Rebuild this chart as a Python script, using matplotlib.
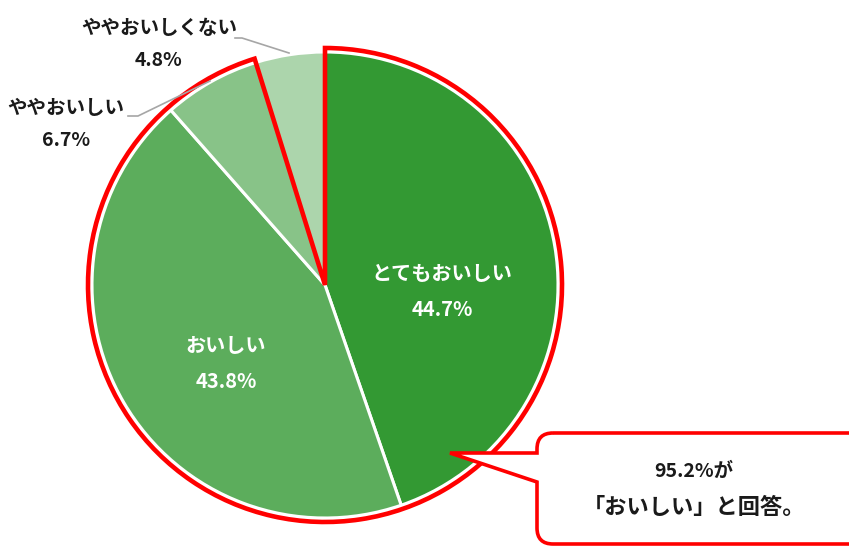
import numpy as np
import matplotlib.pyplot as plt
from matplotlib.path import Path
from matplotlib.patches import PathPatch

plt.rcParams['font.family'] = ['Noto Sans CJK JP', 'DejaVu Sans']

# data
labels = ['とてもおいしい', 'おいしい', 'ややおいしい', 'ややおいしくない']
values = [44.7, 43.8, 6.7, 4.8]
colors = ['#339933', '#5cad5c', '#88c388', '#acd5ac']
highlight = [95.2, 4.8]
callout_lines = ['95.2%が', '「おいしい」と回答。']

W, H = 849, 547
fig = plt.figure(figsize=(W / 100, H / 100), dpi=100)
ax = fig.add_axes([0, 0, 1, 1])

# pixel helper (y measured from top)
def P(x, y):
    return (x, H - y)

cx, cy = P(325, 285)
r = 233

wedges, _ = ax.pie(values, colors=colors, startangle=90, counterclock=False,
                   center=(cx, cy), radius=r,
                   wedgeprops=dict(edgecolor='white', linewidth=2.2))

# red outline around the "おいしい" group
hw, _ = ax.pie(highlight, startangle=90, counterclock=False,
               center=(cx, cy), radius=r + 4,
               wedgeprops=dict(fill=False, edgecolor='#ff0000', linewidth=3.3,
                               joinstyle='miter'))
hw[1].set_visible(False)

ax.set_xlim(0, W)
ax.set_ylim(0, H)
ax.axis('off')

# labels inside
fs = 14.5
inside = {0: (442, 273, 310), 1: (226, 345, 381)}
for i, (x, y1, y2) in inside.items():
    ax.text(*P(x, y1), labels[i], color='white', fontsize=fs, fontweight='bold',
            ha='center', va='center')
    ax.text(*P(x, y2), f'{values[i]}%', color='white', fontsize=fs, fontweight='bold',
            ha='center', va='center')

# labels outside with leader lines
outside = {2: (66, 108, 140, [(128, 116), (138, 116), (210, 81)]),
           3: (159, 28, 61, [(235, 38), (242, 38), (289, 53)])}
for i, (x, y1, y2, pts) in outside.items():
    ax.text(*P(x, y1), labels[i], color='#1a1a1a', fontsize=14, fontweight='bold',
            ha='center', va='center')
    ax.text(*P(x, y2), f'{values[i]}%', color='#1a1a1a', fontsize=14, fontweight='bold',
            ha='center', va='center')
    xs, ys = zip(*[P(px, py) for px, py in pts])
    ax.plot(xs, ys, color='#a6a6a6', lw=1.2, zorder=1.5)

# callout bubble
L, T, R, B, rc = 537, 433, 880, 544, 16
tip = (450, 453)
verts = [P(L + rc, T), P(R, T), P(R, B), P(L + rc, B),
         P(L, B), P(L, B - rc),
         P(L, 482), P(*tip), P(L, 453),
         P(L, T + rc), P(L, T), P(L + rc, T)]
codes = [Path.MOVETO, Path.LINETO, Path.LINETO, Path.LINETO,
         Path.CURVE3, Path.CURVE3,
         Path.LINETO, Path.LINETO, Path.LINETO,
         Path.LINETO, Path.CURVE3, Path.CURVE3]
ax.add_patch(PathPatch(Path(verts, codes), facecolor='white', edgecolor='#ff0000',
                       lw=2.6, joinstyle='miter', zorder=5))
ax.text(*P(694, 471), callout_lines[0], fontsize=14, fontweight='bold',
        ha='center', va='center', color='#1a1a1a', zorder=6)
ax.text(*P(694, 508), callout_lines[1], fontsize=16, fontweight='bold',
        ha='center', va='center', color='#1a1a1a', zorder=6)

fig.savefig('out.png', dpi=100)
